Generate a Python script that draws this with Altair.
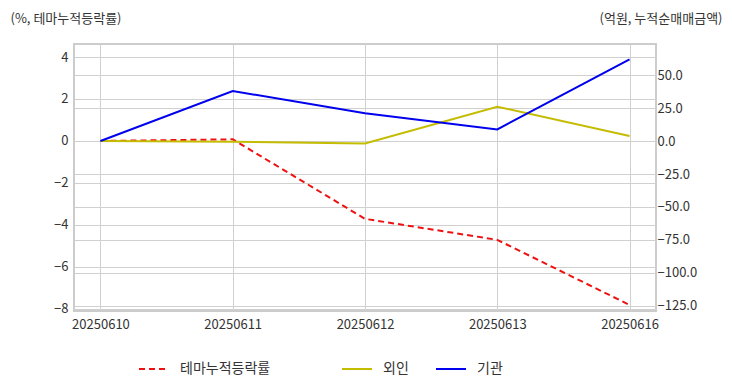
import altair as alt
import pandas as pd

dates = ["20250610", "20250611", "20250612", "20250613", "20250616"]
theme = [0.0, 0.08, -3.71, -4.71, -7.81]
foreign = [0.0, -0.5, -1.8, 26.0, 3.8]
inst = [0.0, 37.9, 21.0, 8.8, 61.9]

theme_name = ["테마누적등락률"]
flow_names = ["외인", "기관"]
theme_color = "#ee1111"
flow_colors = ["#c4bc00", "#0000ee"]

left_ticks = [-8, -6, -4, -2, 0, 2, 4]
right_ticks = [-125, -100, -75, -50, -25, 0, 25, 50]

df_left = pd.DataFrame({"date": dates, "value": theme, "series": theme_name[0]})
df_right = pd.concat([
    pd.DataFrame({"date": dates, "value": foreign, "series": flow_names[0]}),
    pd.DataFrame({"date": dates, "value": inst, "series": flow_names[1]}),
])

FONT = "Noto Sans CJK KR"

x_enc = alt.X("date:O", scale=alt.Scale(type="point", padding=0.2),
              axis=alt.Axis(title=None, labelAngle=0, ticks=False, domain=False,
                            grid=True, labelPadding=7, labelFontSize=13))

common_legend = dict(title=None, orient="none", direction="horizontal",
                     symbolType="stroke", symbolSize=900, symbolStrokeWidth=2,
                     labelFontSize=14, labelOffset=10)

left = alt.Chart(df_left).mark_line(strokeWidth=2, color=theme_color).encode(
    x=x_enc,
    y=alt.Y("value:Q", scale=alt.Scale(domain=[-8.1, 4.62], nice=False, zero=False),
            axis=alt.Axis(orient="left", values=left_ticks, format="d", ticks=False,
                          domain=False, grid=True, labelPadding=6, labelFontSize=13,
                          title="(%, 테마누적등락률)", titleAngle=0, titleX=-64, titleY=-19,
                          titleAlign="left", titleBaseline="bottom", titleFontSize=13,
                          titleFontWeight="normal")),
    strokeDash=alt.StrokeDash("series:N",
                              scale=alt.Scale(domain=theme_name, range=[[6, 4]]),
                              legend=alt.Legend(legendX=64, legendY=309,
                                                symbolStrokeColor=theme_color,
                                                **common_legend)),
)

right = alt.Chart(df_right).mark_line(strokeWidth=2).encode(
    x=x_enc,
    y=alt.Y("value:Q", scale=alt.Scale(domain=[-128.8, 73.5], nice=False, zero=False),
            axis=alt.Axis(orient="right", values=right_ticks, format=".1f", ticks=False,
                          domain=False, grid=True, labelPadding=1, labelFontSize=13,
                          title="(억원, 누적순매매금액)", titleAngle=0, titleX=66, titleY=-19,
                          titleAlign="right", titleBaseline="bottom", titleFontSize=13,
                          titleFontWeight="normal")),
    color=alt.Color("series:N", scale=alt.Scale(domain=flow_names, range=flow_colors),
                    sort=flow_names,
                    legend=alt.Legend(legendX=267, legendY=309, columnPadding=23,
                                      **common_legend)),
)

chart = alt.layer(left, right).resolve_scale(y="independent").properties(
    width=582, height=267,
    autosize=alt.AutoSizeParams(type="none"),
    padding={"left": 66, "top": 36, "right": 68, "bottom": 72},
).configure(font=FONT).configure_axis(
    gridColor="#d0d0d0", gridWidth=1, labelColor="#333333", titleColor="#333333",
).configure_view(
    stroke="#cccccc", strokeWidth=2,
).configure_legend(labelColor="#333333")

chart.save("out.html", embed_options={"renderer": "svg", "actions": False})
